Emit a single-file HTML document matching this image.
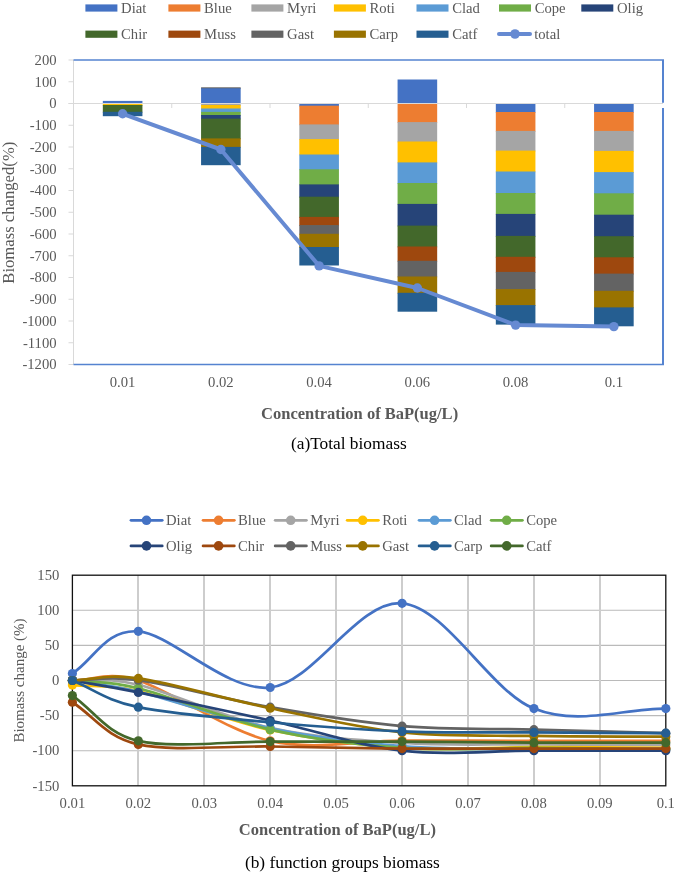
<!DOCTYPE html>
<html lang="en"><head><meta charset="utf-8"><title>Biomass change under BaP concentration</title>
<style>
html,body{margin:0;padding:0;background:#fff;}
body{width:675px;height:874px;position:relative;overflow:hidden;font-family:"Liberation Serif",serif;}
</style></head><body>
<svg width="675" height="874" viewBox="0 0 675 874" style="position:absolute;left:0;top:0" font-family="'Liberation Serif', serif">
<rect x="0" y="0" width="675" height="874" fill="#fff"/>
<rect x="85.4" y="4.4" width="32" height="7.2" fill="#4472C4"/>
<text x="121.10000000000001" y="12.6" font-size="14.67" fill="#595959">Diat</text>
<rect x="168.4" y="4.4" width="32" height="7.2" fill="#ED7D31"/>
<text x="204.10000000000002" y="12.6" font-size="14.67" fill="#595959">Blue</text>
<rect x="251.4" y="4.4" width="32" height="7.2" fill="#A5A5A5"/>
<text x="287.1" y="12.6" font-size="14.67" fill="#595959">Myri</text>
<rect x="333.9" y="4.4" width="32" height="7.2" fill="#FFC000"/>
<text x="369.59999999999997" y="12.6" font-size="14.67" fill="#595959">Roti</text>
<rect x="416.5" y="4.4" width="32" height="7.2" fill="#5B9BD5"/>
<text x="452.2" y="12.6" font-size="14.67" fill="#595959">Clad</text>
<rect x="499.0" y="4.4" width="32" height="7.2" fill="#70AD47"/>
<text x="534.7" y="12.6" font-size="14.67" fill="#595959">Cope</text>
<rect x="581.3" y="4.4" width="32" height="7.2" fill="#264478"/>
<text x="617.0" y="12.6" font-size="14.67" fill="#595959">Olig</text>
<rect x="85.4" y="30.6" width="32" height="7.2" fill="#43682B"/>
<text x="121.10000000000001" y="39.2" font-size="14.67" fill="#595959">Chir</text>
<rect x="168.4" y="30.6" width="32" height="7.2" fill="#9E480E"/>
<text x="204.10000000000002" y="39.2" font-size="14.67" fill="#595959">Muss</text>
<rect x="251.4" y="30.6" width="32" height="7.2" fill="#636363"/>
<text x="287.1" y="39.2" font-size="14.67" fill="#595959">Gast</text>
<rect x="333.9" y="30.6" width="32" height="7.2" fill="#997300"/>
<text x="369.59999999999997" y="39.2" font-size="14.67" fill="#595959">Carp</text>
<rect x="416.5" y="30.6" width="32" height="7.2" fill="#255E91"/>
<text x="452.2" y="39.2" font-size="14.67" fill="#595959">Catf</text>
<line x1="499" y1="34" x2="530" y2="34" stroke="#668AD2" stroke-width="4" stroke-linecap="round"/>
<circle cx="515" cy="34" r="4.8" fill="#668AD2"/>
<text x="534.2" y="39.2" font-size="14.67" fill="#595959">total</text>
<line x1="68.5" y1="60.00" x2="73.5" y2="60.00" stroke="#D9D9D9" stroke-width="1"/>
<text x="56.6" y="64.90" font-size="14.67" fill="#595959" text-anchor="end">200</text>
<line x1="68.5" y1="81.75" x2="73.5" y2="81.75" stroke="#D9D9D9" stroke-width="1"/>
<text x="56.6" y="86.65" font-size="14.67" fill="#595959" text-anchor="end">100</text>
<line x1="68.5" y1="103.50" x2="73.5" y2="103.50" stroke="#D9D9D9" stroke-width="1"/>
<text x="56.6" y="108.40" font-size="14.67" fill="#595959" text-anchor="end">0</text>
<line x1="68.5" y1="125.25" x2="73.5" y2="125.25" stroke="#D9D9D9" stroke-width="1"/>
<text x="56.6" y="130.15" font-size="14.67" fill="#595959" text-anchor="end">-100</text>
<line x1="68.5" y1="147.00" x2="73.5" y2="147.00" stroke="#D9D9D9" stroke-width="1"/>
<text x="56.6" y="151.90" font-size="14.67" fill="#595959" text-anchor="end">-200</text>
<line x1="68.5" y1="168.75" x2="73.5" y2="168.75" stroke="#D9D9D9" stroke-width="1"/>
<text x="56.6" y="173.65" font-size="14.67" fill="#595959" text-anchor="end">-300</text>
<line x1="68.5" y1="190.50" x2="73.5" y2="190.50" stroke="#D9D9D9" stroke-width="1"/>
<text x="56.6" y="195.40" font-size="14.67" fill="#595959" text-anchor="end">-400</text>
<line x1="68.5" y1="212.25" x2="73.5" y2="212.25" stroke="#D9D9D9" stroke-width="1"/>
<text x="56.6" y="217.15" font-size="14.67" fill="#595959" text-anchor="end">-500</text>
<line x1="68.5" y1="234.00" x2="73.5" y2="234.00" stroke="#D9D9D9" stroke-width="1"/>
<text x="56.6" y="238.90" font-size="14.67" fill="#595959" text-anchor="end">-600</text>
<line x1="68.5" y1="255.75" x2="73.5" y2="255.75" stroke="#D9D9D9" stroke-width="1"/>
<text x="56.6" y="260.65" font-size="14.67" fill="#595959" text-anchor="end">-700</text>
<line x1="68.5" y1="277.50" x2="73.5" y2="277.50" stroke="#D9D9D9" stroke-width="1"/>
<text x="56.6" y="282.40" font-size="14.67" fill="#595959" text-anchor="end">-800</text>
<line x1="68.5" y1="299.25" x2="73.5" y2="299.25" stroke="#D9D9D9" stroke-width="1"/>
<text x="56.6" y="304.15" font-size="14.67" fill="#595959" text-anchor="end">-900</text>
<line x1="68.5" y1="321.00" x2="73.5" y2="321.00" stroke="#D9D9D9" stroke-width="1"/>
<text x="56.6" y="325.90" font-size="14.67" fill="#595959" text-anchor="end">-1000</text>
<line x1="68.5" y1="342.75" x2="73.5" y2="342.75" stroke="#D9D9D9" stroke-width="1"/>
<text x="56.6" y="347.65" font-size="14.67" fill="#595959" text-anchor="end">-1100</text>
<line x1="68.5" y1="364.50" x2="73.5" y2="364.50" stroke="#D9D9D9" stroke-width="1"/>
<text x="56.6" y="369.40" font-size="14.67" fill="#595959" text-anchor="end">-1200</text>
<line x1="73.5" y1="60.0" x2="73.5" y2="364.5" stroke="#D9D9D9" stroke-width="1"/>
<rect x="102.83" y="100.9" width="39.6" height="2.60" fill="#4472C4"/>
<rect x="102.83" y="103.5" width="39.6" height="2.30" fill="#FFC000"/>
<rect x="102.83" y="105.0" width="39.6" height="7.60" fill="#43682B"/>
<rect x="102.83" y="111.8" width="39.6" height="4.40" fill="#255E91"/>
<rect x="201.07" y="87.3" width="39.6" height="1.80" fill="#636363"/>
<rect x="201.07" y="88.3" width="39.6" height="15.20" fill="#4472C4"/>
<rect x="201.07" y="103.5" width="39.6" height="2.30" fill="#A5A5A5"/>
<rect x="201.07" y="105.0" width="39.6" height="4.30" fill="#FFC000"/>
<rect x="201.07" y="108.5" width="39.6" height="4.20" fill="#5B9BD5"/>
<rect x="201.07" y="111.9" width="39.6" height="3.90" fill="#70AD47"/>
<rect x="201.07" y="115.0" width="39.6" height="4.40" fill="#264478"/>
<rect x="201.07" y="118.6" width="39.6" height="20.60" fill="#43682B"/>
<rect x="201.07" y="138.4" width="39.6" height="9.30" fill="#997300"/>
<rect x="201.07" y="146.9" width="39.6" height="18.30" fill="#255E91"/>
<rect x="299.32" y="103.5" width="39.6" height="3.00" fill="#4472C4"/>
<rect x="299.32" y="105.7" width="39.6" height="19.50" fill="#ED7D31"/>
<rect x="299.32" y="124.4" width="39.6" height="15.50" fill="#A5A5A5"/>
<rect x="299.32" y="139.1" width="39.6" height="16.20" fill="#FFC000"/>
<rect x="299.32" y="154.5" width="39.6" height="15.60" fill="#5B9BD5"/>
<rect x="299.32" y="169.3" width="39.6" height="15.90" fill="#70AD47"/>
<rect x="299.32" y="184.4" width="39.6" height="13.10" fill="#264478"/>
<rect x="299.32" y="196.7" width="39.6" height="21.00" fill="#43682B"/>
<rect x="299.32" y="216.9" width="39.6" height="9.00" fill="#9E480E"/>
<rect x="299.32" y="225.1" width="39.6" height="9.50" fill="#636363"/>
<rect x="299.32" y="233.8" width="39.6" height="14.00" fill="#997300"/>
<rect x="299.32" y="247.0" width="39.6" height="18.50" fill="#255E91"/>
<rect x="397.57" y="79.5" width="39.6" height="24.00" fill="#4472C4"/>
<rect x="397.57" y="103.5" width="39.6" height="19.40" fill="#ED7D31"/>
<rect x="397.57" y="122.1" width="39.6" height="20.20" fill="#A5A5A5"/>
<rect x="397.57" y="141.5" width="39.6" height="21.70" fill="#FFC000"/>
<rect x="397.57" y="162.4" width="39.6" height="21.40" fill="#5B9BD5"/>
<rect x="397.57" y="183.0" width="39.6" height="21.70" fill="#70AD47"/>
<rect x="397.57" y="203.9" width="39.6" height="22.50" fill="#264478"/>
<rect x="397.57" y="225.6" width="39.6" height="21.70" fill="#43682B"/>
<rect x="397.57" y="246.5" width="39.6" height="15.10" fill="#9E480E"/>
<rect x="397.57" y="260.8" width="39.6" height="16.50" fill="#636363"/>
<rect x="397.57" y="276.5" width="39.6" height="17.10" fill="#997300"/>
<rect x="397.57" y="292.8" width="39.6" height="18.90" fill="#255E91"/>
<rect x="495.82" y="103.5" width="39.6" height="9.30" fill="#4472C4"/>
<rect x="495.82" y="112.0" width="39.6" height="19.70" fill="#ED7D31"/>
<rect x="495.82" y="130.9" width="39.6" height="20.50" fill="#A5A5A5"/>
<rect x="495.82" y="150.6" width="39.6" height="21.70" fill="#FFC000"/>
<rect x="495.82" y="171.5" width="39.6" height="22.30" fill="#5B9BD5"/>
<rect x="495.82" y="193.0" width="39.6" height="21.70" fill="#70AD47"/>
<rect x="495.82" y="213.9" width="39.6" height="22.80" fill="#264478"/>
<rect x="495.82" y="235.9" width="39.6" height="21.70" fill="#43682B"/>
<rect x="495.82" y="256.8" width="39.6" height="15.90" fill="#9E480E"/>
<rect x="495.82" y="271.9" width="39.6" height="18.00" fill="#636363"/>
<rect x="495.82" y="289.1" width="39.6" height="16.80" fill="#997300"/>
<rect x="495.82" y="305.1" width="39.6" height="19.50" fill="#255E91"/>
<rect x="594.08" y="103.5" width="39.6" height="9.30" fill="#4472C4"/>
<rect x="594.08" y="112.0" width="39.6" height="19.70" fill="#ED7D31"/>
<rect x="594.08" y="130.9" width="39.6" height="20.80" fill="#A5A5A5"/>
<rect x="594.08" y="150.9" width="39.6" height="22.00" fill="#FFC000"/>
<rect x="594.08" y="172.1" width="39.6" height="22.00" fill="#5B9BD5"/>
<rect x="594.08" y="193.3" width="39.6" height="22.20" fill="#70AD47"/>
<rect x="594.08" y="214.7" width="39.6" height="22.30" fill="#264478"/>
<rect x="594.08" y="236.2" width="39.6" height="21.90" fill="#43682B"/>
<rect x="594.08" y="257.3" width="39.6" height="17.10" fill="#9E480E"/>
<rect x="594.08" y="273.6" width="39.6" height="18.00" fill="#636363"/>
<rect x="594.08" y="290.8" width="39.6" height="17.40" fill="#997300"/>
<rect x="594.08" y="307.4" width="39.6" height="18.90" fill="#255E91"/>
<line x1="68.5" y1="103.5" x2="663.0" y2="103.5" stroke="#D9D9D9" stroke-width="1.2"/>
<line x1="171.75" y1="103.5" x2="171.75" y2="108.0" stroke="#D9D9D9" stroke-width="1"/>
<line x1="270.00" y1="103.5" x2="270.00" y2="108.0" stroke="#D9D9D9" stroke-width="1"/>
<line x1="368.25" y1="103.5" x2="368.25" y2="108.0" stroke="#D9D9D9" stroke-width="1"/>
<line x1="466.50" y1="103.5" x2="466.50" y2="108.0" stroke="#D9D9D9" stroke-width="1"/>
<line x1="564.75" y1="103.5" x2="564.75" y2="108.0" stroke="#D9D9D9" stroke-width="1"/>
<line x1="73.5" y1="60.0" x2="664.0" y2="60.0" stroke="#5583D0" stroke-width="1.6"/>
<line x1="73.5" y1="364.5" x2="664.0" y2="364.5" stroke="#5583D0" stroke-width="1.6"/>
<line x1="663.0" y1="60.0" x2="663.0" y2="102.8" stroke="#5583D0" stroke-width="2"/>
<line x1="663.0" y1="108" x2="663.0" y2="364.5" stroke="#5583D0" stroke-width="2"/>
<polyline points="122.62,113.8 220.88,149.5 319.12,265.9 417.38,288.0 515.62,325.1 613.88,326.6" fill="none" stroke="#668AD2" stroke-width="4" stroke-linejoin="round" stroke-linecap="round"/>
<circle cx="122.62" cy="113.8" r="4.7" fill="#668AD2"/>
<circle cx="220.88" cy="149.5" r="4.7" fill="#668AD2"/>
<circle cx="319.12" cy="265.9" r="4.7" fill="#668AD2"/>
<circle cx="417.38" cy="288.0" r="4.7" fill="#668AD2"/>
<circle cx="515.62" cy="325.1" r="4.7" fill="#668AD2"/>
<circle cx="613.88" cy="326.6" r="4.7" fill="#668AD2"/>
<text x="122.62" y="386.6" font-size="14.67" fill="#595959" text-anchor="middle">0.01</text>
<text x="220.88" y="386.6" font-size="14.67" fill="#595959" text-anchor="middle">0.02</text>
<text x="319.12" y="386.6" font-size="14.67" fill="#595959" text-anchor="middle">0.04</text>
<text x="417.38" y="386.6" font-size="14.67" fill="#595959" text-anchor="middle">0.06</text>
<text x="515.62" y="386.6" font-size="14.67" fill="#595959" text-anchor="middle">0.08</text>
<text x="613.88" y="386.6" font-size="14.67" fill="#595959" text-anchor="middle">0.1</text>
<text x="359.6" y="418.9" font-size="16.5" font-weight="bold" fill="#595959" text-anchor="middle">Concentration of BaP(ug/L)</text>
<text x="348.8" y="449.1" font-size="17.33" fill="#000" text-anchor="middle">(a)Total biomass</text>
<text transform="translate(14.2,212.7) rotate(-90)" font-size="16.67" fill="#595959" text-anchor="middle">Biomass changed(%)</text>
<line x1="72.4" y1="750.70" x2="665.8" y2="750.70" stroke="#BABABA" stroke-width="1.1"/>
<line x1="72.4" y1="715.60" x2="665.8" y2="715.60" stroke="#BABABA" stroke-width="1.1"/>
<line x1="72.4" y1="680.50" x2="665.8" y2="680.50" stroke="#BABABA" stroke-width="1.1"/>
<line x1="72.4" y1="645.40" x2="665.8" y2="645.40" stroke="#BABABA" stroke-width="1.1"/>
<line x1="72.4" y1="610.30" x2="665.8" y2="610.30" stroke="#BABABA" stroke-width="1.1"/>
<line x1="138" y1="575.2" x2="138" y2="785.8" stroke="#CDCDCD" stroke-width="2"/>
<line x1="204" y1="575.2" x2="204" y2="785.8" stroke="#CDCDCD" stroke-width="2"/>
<line x1="270" y1="575.2" x2="270" y2="785.8" stroke="#CDCDCD" stroke-width="2"/>
<line x1="336" y1="575.2" x2="336" y2="785.8" stroke="#CDCDCD" stroke-width="2"/>
<line x1="402" y1="575.2" x2="402" y2="785.8" stroke="#CDCDCD" stroke-width="2"/>
<line x1="468" y1="575.2" x2="468" y2="785.8" stroke="#CDCDCD" stroke-width="2"/>
<line x1="534" y1="575.2" x2="534" y2="785.8" stroke="#CDCDCD" stroke-width="2"/>
<line x1="600" y1="575.2" x2="600" y2="785.8" stroke="#CDCDCD" stroke-width="2"/>
<text x="59.3" y="579.90" font-size="14.67" fill="#595959" text-anchor="end">150</text>
<text x="59.3" y="615.00" font-size="14.67" fill="#595959" text-anchor="end">100</text>
<text x="59.3" y="650.10" font-size="14.67" fill="#595959" text-anchor="end">50</text>
<text x="59.3" y="685.20" font-size="14.67" fill="#595959" text-anchor="end">0</text>
<text x="59.3" y="720.30" font-size="14.67" fill="#595959" text-anchor="end">-50</text>
<text x="59.3" y="755.40" font-size="14.67" fill="#595959" text-anchor="end">-100</text>
<text x="59.3" y="790.50" font-size="14.67" fill="#595959" text-anchor="end">-150</text>
<text x="72.40" y="808.2" font-size="14.67" fill="#595959" text-anchor="middle">0.01</text>
<text x="138.33" y="808.2" font-size="14.67" fill="#595959" text-anchor="middle">0.02</text>
<text x="204.27" y="808.2" font-size="14.67" fill="#595959" text-anchor="middle">0.03</text>
<text x="270.20" y="808.2" font-size="14.67" fill="#595959" text-anchor="middle">0.04</text>
<text x="336.13" y="808.2" font-size="14.67" fill="#595959" text-anchor="middle">0.05</text>
<text x="402.07" y="808.2" font-size="14.67" fill="#595959" text-anchor="middle">0.06</text>
<text x="468.00" y="808.2" font-size="14.67" fill="#595959" text-anchor="middle">0.07</text>
<text x="533.93" y="808.2" font-size="14.67" fill="#595959" text-anchor="middle">0.08</text>
<text x="599.87" y="808.2" font-size="14.67" fill="#595959" text-anchor="middle">0.09</text>
<text x="665.80" y="808.2" font-size="14.67" fill="#595959" text-anchor="middle">0.1</text>
<rect x="72.4" y="575.2" width="593.4" height="210.60" fill="none" stroke="#111" stroke-width="1.3"/>
<path d="M72.40,673.48 C94.38,659.44 105.37,629.02 138.33,631.36 C171.30,633.70 226.24,692.20 270.20,687.52 C314.16,682.84 358.11,599.77 402.07,603.28 C446.02,606.79 489.98,691.03 533.93,708.58 C577.89,726.13 621.84,708.58 665.80,708.58" fill="none" stroke="#4472C4" stroke-width="2.7" stroke-linecap="round" stroke-linejoin="round"/>
<circle cx="72.40" cy="673.48" r="4.6" fill="#4472C4"/>
<circle cx="138.33" cy="631.36" r="4.6" fill="#4472C4"/>
<circle cx="270.20" cy="687.52" r="4.6" fill="#4472C4"/>
<circle cx="402.07" cy="603.28" r="4.6" fill="#4472C4"/>
<circle cx="533.93" cy="708.58" r="4.6" fill="#4472C4"/>
<circle cx="665.80" cy="708.58" r="4.6" fill="#4472C4"/>
<path d="M72.40,680.50 C94.38,680.50 106.80,670.88 138.33,680.50 C171.30,690.56 226.24,730.87 270.20,740.87 C314.16,750.88 358.11,740.52 402.07,740.52 C446.02,740.52 489.98,740.81 533.93,740.87 C577.89,740.93 621.84,740.87 665.80,740.87" fill="none" stroke="#ED7D31" stroke-width="2.7" stroke-linecap="round" stroke-linejoin="round"/>
<circle cx="72.40" cy="680.50" r="4.6" fill="#ED7D31"/>
<circle cx="138.33" cy="680.50" r="4.6" fill="#ED7D31"/>
<circle cx="270.20" cy="740.87" r="4.6" fill="#ED7D31"/>
<circle cx="402.07" cy="740.52" r="4.6" fill="#ED7D31"/>
<circle cx="533.93" cy="740.87" r="4.6" fill="#ED7D31"/>
<circle cx="665.80" cy="740.87" r="4.6" fill="#ED7D31"/>
<path d="M72.40,680.50 C94.38,681.90 106.21,677.02 138.33,684.71 C171.30,692.61 226.24,718.17 270.20,727.88 C314.16,737.60 358.11,740.23 402.07,742.98 C446.02,745.73 489.98,744.03 533.93,744.38 C577.89,744.73 621.84,744.85 665.80,745.08" fill="none" stroke="#A5A5A5" stroke-width="2.7" stroke-linecap="round" stroke-linejoin="round"/>
<circle cx="72.40" cy="680.50" r="4.6" fill="#A5A5A5"/>
<circle cx="138.33" cy="684.71" r="4.6" fill="#A5A5A5"/>
<circle cx="270.20" cy="727.88" r="4.6" fill="#A5A5A5"/>
<circle cx="402.07" cy="742.98" r="4.6" fill="#A5A5A5"/>
<circle cx="533.93" cy="744.38" r="4.6" fill="#A5A5A5"/>
<circle cx="665.80" cy="745.08" r="4.6" fill="#A5A5A5"/>
<path d="M72.40,685.06 C94.38,687.05 106.05,683.70 138.33,691.03 C171.30,698.52 226.24,720.51 270.20,729.99 C314.16,739.47 358.11,745.03 402.07,747.89 C446.02,750.76 489.98,747.19 533.93,747.19 C577.89,747.19 621.84,747.66 665.80,747.89" fill="none" stroke="#FFC000" stroke-width="2.7" stroke-linecap="round" stroke-linejoin="round"/>
<circle cx="72.40" cy="685.06" r="4.6" fill="#FFC000"/>
<circle cx="138.33" cy="691.03" r="4.6" fill="#FFC000"/>
<circle cx="270.20" cy="729.99" r="4.6" fill="#FFC000"/>
<circle cx="402.07" cy="747.89" r="4.6" fill="#FFC000"/>
<circle cx="533.93" cy="747.19" r="4.6" fill="#FFC000"/>
<circle cx="665.80" cy="747.89" r="4.6" fill="#FFC000"/>
<path d="M72.40,680.50 C94.38,684.24 105.83,683.89 138.33,691.73 C171.30,699.69 226.24,719.17 270.20,728.24 C314.16,737.30 358.11,742.63 402.07,746.14 C446.02,749.65 489.98,748.83 533.93,749.30 C577.89,749.76 621.84,749.06 665.80,748.94" fill="none" stroke="#5B9BD5" stroke-width="2.7" stroke-linecap="round" stroke-linejoin="round"/>
<circle cx="72.40" cy="680.50" r="4.6" fill="#5B9BD5"/>
<circle cx="138.33" cy="691.73" r="4.6" fill="#5B9BD5"/>
<circle cx="270.20" cy="728.24" r="4.6" fill="#5B9BD5"/>
<circle cx="402.07" cy="746.14" r="4.6" fill="#5B9BD5"/>
<circle cx="533.93" cy="749.30" r="4.6" fill="#5B9BD5"/>
<circle cx="665.80" cy="748.94" r="4.6" fill="#5B9BD5"/>
<path d="M72.40,680.50 C94.38,683.07 106.12,680.22 138.33,688.22 C171.30,696.41 226.24,719.69 270.20,729.64 C314.16,739.59 358.11,744.85 402.07,747.89 C446.02,750.93 489.98,747.66 533.93,747.89 C577.89,748.13 621.84,748.83 665.80,749.30" fill="none" stroke="#70AD47" stroke-width="2.7" stroke-linecap="round" stroke-linejoin="round"/>
<circle cx="72.40" cy="680.50" r="4.6" fill="#70AD47"/>
<circle cx="138.33" cy="688.22" r="4.6" fill="#70AD47"/>
<circle cx="270.20" cy="729.64" r="4.6" fill="#70AD47"/>
<circle cx="402.07" cy="747.89" r="4.6" fill="#70AD47"/>
<circle cx="533.93" cy="747.89" r="4.6" fill="#70AD47"/>
<circle cx="665.80" cy="749.30" r="4.6" fill="#70AD47"/>
<path d="M72.40,680.50 C94.38,684.48 105.50,685.79 138.33,692.43 C171.30,699.10 226.24,710.80 270.20,720.51 C314.16,730.23 358.11,745.67 402.07,750.70 C446.02,755.73 489.98,750.70 533.93,750.70 C577.89,750.70 621.84,750.70 665.80,750.70" fill="none" stroke="#264478" stroke-width="2.7" stroke-linecap="round" stroke-linejoin="round"/>
<circle cx="72.40" cy="680.50" r="4.6" fill="#264478"/>
<circle cx="138.33" cy="692.43" r="4.6" fill="#264478"/>
<circle cx="270.20" cy="720.51" r="4.6" fill="#264478"/>
<circle cx="402.07" cy="750.70" r="4.6" fill="#264478"/>
<circle cx="533.93" cy="750.70" r="4.6" fill="#264478"/>
<circle cx="665.80" cy="750.70" r="4.6" fill="#264478"/>
<path d="M72.40,702.26 C94.38,716.30 105.37,737.01 138.33,744.38 C171.30,751.75 226.24,745.79 270.20,746.49 C314.16,747.19 358.11,748.24 402.07,748.59 C446.02,748.95 489.98,748.59 533.93,748.59 C577.89,748.59 621.84,748.59 665.80,748.59" fill="none" stroke="#9E480E" stroke-width="2.7" stroke-linecap="round" stroke-linejoin="round"/>
<circle cx="72.40" cy="702.26" r="4.6" fill="#9E480E"/>
<circle cx="138.33" cy="744.38" r="4.6" fill="#9E480E"/>
<circle cx="270.20" cy="746.49" r="4.6" fill="#9E480E"/>
<circle cx="402.07" cy="748.59" r="4.6" fill="#9E480E"/>
<circle cx="533.93" cy="748.59" r="4.6" fill="#9E480E"/>
<circle cx="665.80" cy="748.59" r="4.6" fill="#9E480E"/>
<path d="M72.40,680.50 C94.38,680.38 105.66,675.74 138.33,680.15 C171.30,684.60 226.24,699.51 270.20,707.18 C314.16,714.84 358.11,722.39 402.07,726.13 C446.02,729.87 489.98,728.47 533.93,729.64 C577.89,730.81 621.84,731.98 665.80,733.15" fill="none" stroke="#636363" stroke-width="2.7" stroke-linecap="round" stroke-linejoin="round"/>
<circle cx="72.40" cy="680.50" r="4.6" fill="#636363"/>
<circle cx="138.33" cy="680.15" r="4.6" fill="#636363"/>
<circle cx="270.20" cy="707.18" r="4.6" fill="#636363"/>
<circle cx="402.07" cy="726.13" r="4.6" fill="#636363"/>
<circle cx="533.93" cy="729.64" r="4.6" fill="#636363"/>
<circle cx="665.80" cy="733.15" r="4.6" fill="#636363"/>
<path d="M72.40,680.50 C94.38,679.80 105.67,673.81 138.33,678.39 C171.30,683.02 226.24,699.22 270.20,708.23 C314.16,717.24 358.11,727.83 402.07,732.45 C446.02,737.07 489.98,735.26 533.93,735.96 C577.89,736.66 621.84,736.43 665.80,736.66" fill="none" stroke="#997300" stroke-width="2.7" stroke-linecap="round" stroke-linejoin="round"/>
<circle cx="72.40" cy="680.50" r="4.6" fill="#997300"/>
<circle cx="138.33" cy="678.39" r="4.6" fill="#997300"/>
<circle cx="270.20" cy="708.23" r="4.6" fill="#997300"/>
<circle cx="402.07" cy="732.45" r="4.6" fill="#997300"/>
<circle cx="533.93" cy="735.96" r="4.6" fill="#997300"/>
<circle cx="665.80" cy="736.66" r="4.6" fill="#997300"/>
<path d="M72.40,680.50 C94.38,689.39 105.37,700.21 138.33,707.18 C171.30,714.14 226.24,718.23 270.20,722.27 C314.16,726.31 358.11,729.70 402.07,731.39 C446.02,733.09 489.98,732.16 533.93,732.45 C577.89,732.74 621.84,732.92 665.80,733.15" fill="none" stroke="#255E91" stroke-width="2.7" stroke-linecap="round" stroke-linejoin="round"/>
<circle cx="72.40" cy="680.50" r="4.6" fill="#255E91"/>
<circle cx="138.33" cy="707.18" r="4.6" fill="#255E91"/>
<circle cx="270.20" cy="722.27" r="4.6" fill="#255E91"/>
<circle cx="402.07" cy="731.39" r="4.6" fill="#255E91"/>
<circle cx="533.93" cy="732.45" r="4.6" fill="#255E91"/>
<circle cx="665.80" cy="733.15" r="4.6" fill="#255E91"/>
<path d="M72.40,695.59 C94.38,710.69 105.37,733.21 138.33,740.87 C171.30,748.54 226.24,741.46 270.20,741.57 C314.16,741.69 358.11,741.40 402.07,741.57 C446.02,741.75 489.98,742.45 533.93,742.63 C577.89,742.80 621.84,742.63 665.80,742.63" fill="none" stroke="#43682B" stroke-width="2.7" stroke-linecap="round" stroke-linejoin="round"/>
<circle cx="72.40" cy="695.59" r="4.6" fill="#43682B"/>
<circle cx="138.33" cy="740.87" r="4.6" fill="#43682B"/>
<circle cx="270.20" cy="741.57" r="4.6" fill="#43682B"/>
<circle cx="402.07" cy="741.57" r="4.6" fill="#43682B"/>
<circle cx="533.93" cy="742.63" r="4.6" fill="#43682B"/>
<circle cx="665.80" cy="742.63" r="4.6" fill="#43682B"/>
<line x1="131.0" y1="520.3" x2="162.2" y2="520.3" stroke="#4472C4" stroke-width="2.8" stroke-linecap="round"/>
<circle cx="146.5" cy="520.3" r="4.8" fill="#4472C4"/>
<text x="166.0" y="524.7" font-size="14.67" fill="#595959">Diat</text>
<line x1="203.1" y1="520.3" x2="234.29999999999998" y2="520.3" stroke="#ED7D31" stroke-width="2.8" stroke-linecap="round"/>
<circle cx="218.6" cy="520.3" r="4.8" fill="#ED7D31"/>
<text x="238.1" y="524.7" font-size="14.67" fill="#595959">Blue</text>
<line x1="275.2" y1="520.3" x2="306.4" y2="520.3" stroke="#A5A5A5" stroke-width="2.8" stroke-linecap="round"/>
<circle cx="290.7" cy="520.3" r="4.8" fill="#A5A5A5"/>
<text x="310.2" y="524.7" font-size="14.67" fill="#595959">Myri</text>
<line x1="347.2" y1="520.3" x2="378.4" y2="520.3" stroke="#FFC000" stroke-width="2.8" stroke-linecap="round"/>
<circle cx="362.7" cy="520.3" r="4.8" fill="#FFC000"/>
<text x="382.2" y="524.7" font-size="14.67" fill="#595959">Roti</text>
<line x1="419.1" y1="520.3" x2="450.3" y2="520.3" stroke="#5B9BD5" stroke-width="2.8" stroke-linecap="round"/>
<circle cx="434.6" cy="520.3" r="4.8" fill="#5B9BD5"/>
<text x="454.1" y="524.7" font-size="14.67" fill="#595959">Clad</text>
<line x1="491.2" y1="520.3" x2="522.4" y2="520.3" stroke="#70AD47" stroke-width="2.8" stroke-linecap="round"/>
<circle cx="506.7" cy="520.3" r="4.8" fill="#70AD47"/>
<text x="526.2" y="524.7" font-size="14.67" fill="#595959">Cope</text>
<line x1="131.0" y1="545.9" x2="162.2" y2="545.9" stroke="#264478" stroke-width="2.8" stroke-linecap="round"/>
<circle cx="146.5" cy="545.9" r="4.8" fill="#264478"/>
<text x="166.0" y="550.8" font-size="14.67" fill="#595959">Olig</text>
<line x1="203.1" y1="545.9" x2="234.29999999999998" y2="545.9" stroke="#9E480E" stroke-width="2.8" stroke-linecap="round"/>
<circle cx="218.6" cy="545.9" r="4.8" fill="#9E480E"/>
<text x="238.1" y="550.8" font-size="14.67" fill="#595959">Chir</text>
<line x1="275.2" y1="545.9" x2="306.4" y2="545.9" stroke="#636363" stroke-width="2.8" stroke-linecap="round"/>
<circle cx="290.7" cy="545.9" r="4.8" fill="#636363"/>
<text x="310.2" y="550.8" font-size="14.67" fill="#595959">Muss</text>
<line x1="347.2" y1="545.9" x2="378.4" y2="545.9" stroke="#997300" stroke-width="2.8" stroke-linecap="round"/>
<circle cx="362.7" cy="545.9" r="4.8" fill="#997300"/>
<text x="382.2" y="550.8" font-size="14.67" fill="#595959">Gast</text>
<line x1="419.1" y1="545.9" x2="450.3" y2="545.9" stroke="#255E91" stroke-width="2.8" stroke-linecap="round"/>
<circle cx="434.6" cy="545.9" r="4.8" fill="#255E91"/>
<text x="454.1" y="550.8" font-size="14.67" fill="#595959">Carp</text>
<line x1="491.2" y1="545.9" x2="522.4" y2="545.9" stroke="#43682B" stroke-width="2.8" stroke-linecap="round"/>
<circle cx="506.7" cy="545.9" r="4.8" fill="#43682B"/>
<text x="526.2" y="550.8" font-size="14.67" fill="#595959">Catf</text>
<text x="337.4" y="835.3" font-size="16.5" font-weight="bold" fill="#595959" text-anchor="middle">Concentration of BaP(ug/L)</text>
<text x="342.4" y="867.7" font-size="17.33" fill="#000" text-anchor="middle">(b) function groups biomass</text>
<text transform="translate(24.0,680.5) rotate(-90)" font-size="15" fill="#595959" text-anchor="middle">Biomass change (%)</text>
</svg>
</body></html>
